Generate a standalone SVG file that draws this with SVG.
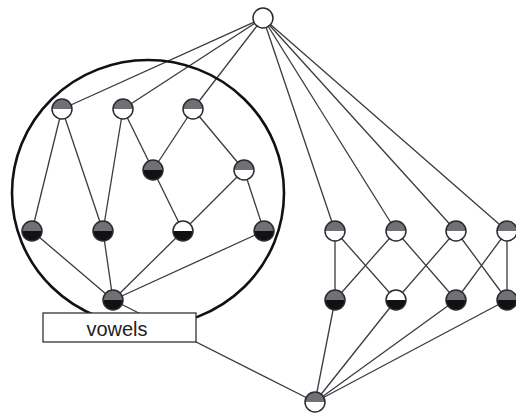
<svg xmlns="http://www.w3.org/2000/svg" xmlns:xlink="http://www.w3.org/1999/xlink" width="516" height="413" viewBox="0 0 516 413">
<style>
.e{stroke:#3a3a40;stroke-width:1.3;fill:none}
.ring{stroke:#111;stroke-width:2.6;fill:none}
.lbl{font-family:"Liberation Sans",Arial,sans-serif;font-size:20px;fill:#222}
.box{fill:#fff;stroke:#333;stroke-width:1.3}
</style>
<defs>
<g id="gw"><path d="M-10,0 A10,10 0 0 1 10,0 Z" fill="#707075"/><path d="M-10,0 A10,10 0 0 0 10,0 Z" fill="#fff"/><circle r="10" fill="none" stroke="#2a2a30" stroke-width="1.5"/></g>
<g id="gb"><path d="M-10,0 A10,10 0 0 1 10,0 Z" fill="#707075"/><path d="M-10,0 A10,10 0 0 0 10,0 Z" fill="#111"/><circle r="10" fill="none" stroke="#2a2a30" stroke-width="1.5"/></g>
<g id="wb"><path d="M-10,0 A10,10 0 0 1 10,0 Z" fill="#fff"/><path d="M-10,0 A10,10 0 0 0 10,0 Z" fill="#111"/><circle r="10" fill="none" stroke="#2a2a30" stroke-width="1.5"/></g>
<g id="ww"><circle r="10" fill="#fff" stroke="#2a2a30" stroke-width="1.5"/></g>
</defs>
<rect width="516" height="413" fill="#fff"/>
<g id="connectors" class="e">
<line x1="263" y1="18" x2="62" y2="109"/>
<line x1="263" y1="18" x2="123" y2="109"/>
<line x1="263" y1="18" x2="193" y2="109"/>
<line x1="263" y1="18" x2="335" y2="231"/>
<line x1="263" y1="18" x2="396" y2="231"/>
<line x1="263" y1="18" x2="456" y2="231"/>
<line x1="263" y1="18" x2="507" y2="231"/>
<line x1="62" y1="109" x2="32" y2="231"/>
<line x1="62" y1="109" x2="103" y2="231"/>
<line x1="123" y1="109" x2="103" y2="231"/>
<line x1="123" y1="109" x2="153" y2="170"/>
<line x1="193" y1="109" x2="153" y2="170"/>
<line x1="193" y1="109" x2="244" y2="170"/>
<line x1="153" y1="170" x2="183" y2="231"/>
<line x1="244" y1="170" x2="183" y2="231"/>
<line x1="244" y1="170" x2="264" y2="231"/>
<line x1="32" y1="231" x2="113" y2="300"/>
<line x1="103" y1="231" x2="113" y2="300"/>
<line x1="183" y1="231" x2="113" y2="300"/>
<line x1="264" y1="231" x2="113" y2="300"/>
<line x1="113" y1="300" x2="315" y2="402"/>
<line x1="335" y1="231" x2="335" y2="300"/>
<line x1="335" y1="231" x2="396" y2="300"/>
<line x1="396" y1="231" x2="335" y2="300"/>
<line x1="396" y1="231" x2="456" y2="300"/>
<line x1="456" y1="231" x2="396" y2="300"/>
<line x1="456" y1="231" x2="507" y2="300"/>
<line x1="507" y1="231" x2="456" y2="300"/>
<line x1="507" y1="231" x2="507" y2="300"/>
<line x1="335" y1="300" x2="315" y2="402"/>
<line x1="396" y1="300" x2="315" y2="402"/>
<line x1="456" y1="300" x2="315" y2="402"/>
<line x1="507" y1="300" x2="315" y2="402"/>
</g>
<ellipse id="group-ring" class="ring" cx="148" cy="193" rx="136" ry="133"/>
<g id="top"><use xlink:href="#ww" x="263" y="18"/></g>
<g id="a1"><use xlink:href="#gw" x="62" y="109"/></g>
<g id="a2"><use xlink:href="#gw" x="123" y="109"/></g>
<g id="a3"><use xlink:href="#gw" x="193" y="109"/></g>
<g id="b1"><use xlink:href="#gb" x="153" y="170"/></g>
<g id="b2"><use xlink:href="#gw" x="244" y="170"/></g>
<g id="c1"><use xlink:href="#gb" x="32" y="231"/></g>
<g id="c2"><use xlink:href="#gb" x="103" y="231"/></g>
<g id="c3"><use xlink:href="#wb" x="183" y="231"/></g>
<g id="c4"><use xlink:href="#gb" x="264" y="231"/></g>
<g id="d"><use xlink:href="#gb" x="113" y="300"/></g>
<g id="e1"><use xlink:href="#gw" x="335" y="231"/></g>
<g id="e2"><use xlink:href="#gw" x="396" y="231"/></g>
<g id="e3"><use xlink:href="#gw" x="456" y="231"/></g>
<g id="e4"><use xlink:href="#gw" x="507" y="231"/></g>
<g id="f1"><use xlink:href="#gb" x="335" y="300"/></g>
<g id="f2"><use xlink:href="#wb" x="396" y="300"/></g>
<g id="f3"><use xlink:href="#gb" x="456" y="300"/></g>
<g id="f4"><use xlink:href="#gb" x="507" y="300"/></g>
<g id="bottom"><use xlink:href="#gw" x="315" y="402"/></g>
<g id="vowels">
<rect class="box" x="43" y="313" width="153" height="29"/>
<text class="lbl" x="117" y="336" text-anchor="middle">vowels</text>
</g>
</svg>
